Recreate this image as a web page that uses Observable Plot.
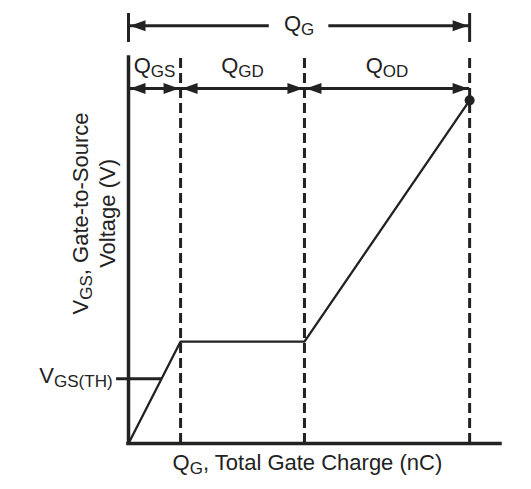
<!DOCTYPE html>
<html>
<head>
<meta charset="utf-8">
<script src="https://cdn.jsdelivr.net/npm/d3@7"></script>
<script src="https://cdn.jsdelivr.net/npm/@observablehq/plot@0.6"></script>
<style>
  html, body { margin: 0; padding: 0; background: #fff; }
</style>
</head>
<body>
<div id="chart"></div>
<script>
// ---- data ----
const charges = [0, 14, 47.3, 91.7];        // gate charge at phase boundaries
const voltages = [0, 2.64, 2.64, 8.89];     // gate-to-source voltage at those points
const vth = 1.68;                           // threshold voltage
const segmentLabels = ["Q_{GS}", "Q_{GD}", "Q_{OD}"];
const totalLabel = "Q_{G}";
const vthLabel = "V_{GS(TH)}";
const xLabel = "Q_{G}, Total Gate Charge (nC)";
const yLabel = "V_{GS}, Gate-to-Source\nVoltage (V)";

const xMax = 100, yMax = 10;
const qg = charges[charges.length - 1];
const vEnd = voltages[voltages.length - 1];
const ink = "#222";

const segments = segmentLabels.map((label, i) => ({label, x1: charges[i], x2: charges[i + 1], mid: (charges[i] + charges[i + 1]) / 2}));
const qgMid = qg / 2;

// annotation rows (in y units above the axis)
const rowY = 9.2, rowLabelY = 9.79;
const topY = 10.82, topLabelY = 10.88, topBar = [10.39, 11.14];
const gap = 8;

// filled arrowheads, tip at origin
const headR = {draw(c) { c.moveTo(-1.5, 0); c.lineTo(-17, -5.5); c.lineTo(-17, 5.5); c.closePath(); }};
const headL = {draw(c) { c.moveTo(1.5, 0); c.lineTo(17, -5.5); c.lineTo(17, 5.5); c.closePath(); }};

const FS = 22;

const chart = Plot.plot({
  width: 531,
  height: 489,
  marginLeft: 128,
  marginRight: 31,
  marginTop: 57,
  marginBottom: 46,
  style: {fontFamily: "'Liberation Sans', Arial, sans-serif", color: ink, background: "#fff"},
  x: {domain: [0, xMax], range: [128, 500], axis: null},
  y: {domain: [0, yMax], range: [443, 57], axis: null},
  marks: [
    // dashed phase boundaries
    Plot.ruleX(charges.slice(1), {y1: 0, y2: yMax, stroke: ink, strokeWidth: 3, strokeDasharray: "10,5"}),
    // axes
    Plot.ruleX([0], {y1: 0, y2: yMax, stroke: ink, strokeWidth: 3.5, strokeLinecap: "square"}),
    Plot.ruleY([0], {x1: 0, x2: xMax, stroke: ink, strokeWidth: 3.5, strokeLinecap: "square"}),
    // threshold tick
    Plot.ruleY([vth], {x1: -3.2, x2: vth / voltages[1] * charges[1], stroke: ink, strokeWidth: 3}),
    Plot.text([vthLabel], {x: -3.2, y: vth, dx: -4, dy: -3, textAnchor: "end", fontSize: FS, fill: ink}),
    // gate charge curve
    Plot.line(charges.map((c, i) => ({c, v: voltages[i]})), {x: "c", y: "v", stroke: ink, strokeWidth: 2.3}),
    Plot.dot([{c: qg, v: vEnd}], {x: "c", y: "v", r: 5, fill: ink, stroke: "none"}),
    // segment arrows
    Plot.ruleY(segments, {y: rowY, x1: "x1", x2: "x2", stroke: ink, strokeWidth: 3}),
    Plot.dot(segments, {x: "x2", y: rowY, symbol: headR, fill: ink, stroke: "none"}),
    Plot.dot(segments, {x: "x1", y: rowY, symbol: headL, fill: ink, stroke: "none"}),
    Plot.text(segments, {x: "mid", y: rowLabelY, text: "label", fontSize: FS, fill: ink}),
    // total charge arrow
    Plot.ruleX([0, qg], {y1: topBar[0], y2: topBar[1], stroke: ink, strokeWidth: 3}),
    Plot.ruleY([topY], {x1: 0, x2: qgMid - gap, stroke: ink, strokeWidth: 3}),
    Plot.ruleY([topY], {x1: qgMid + gap, x2: qg, stroke: ink, strokeWidth: 3}),
    Plot.dot([0], {x: d => d, y: topY, symbol: headL, fill: ink, stroke: "none"}),
    Plot.dot([qg], {x: d => d, y: topY, symbol: headR, fill: ink, stroke: "none"}),
    Plot.text([totalLabel], {x: qgMid, y: topLabelY, fontSize: FS, fill: ink}),
    // axis titles
    Plot.text([xLabel], {x: 48.1, frameAnchor: "bottom", dy: 26, fontSize: FS, fill: ink}),
    Plot.text([yLabel], {x: -9.5, y: 5.96, rotate: -90, lineHeight: 1.22, fontSize: FS, fill: ink})
  ]
});

// render "_{...}" as subscripts
function subscriptify(root) {
  const SUB = 17, SHIFT = 4;
  root.querySelectorAll("text, tspan").forEach(el => {
    if (el.children.length) return;
    const s = el.textContent;
    if (!s.includes("_{")) return;
    el.textContent = "";
    const parts = s.split(/_\{([^}]*)\}/);
    let shifted = false;
    parts.forEach((p, i) => {
      if (!p) return;
      const t = document.createElementNS("http://www.w3.org/2000/svg", "tspan");
      t.textContent = p;
      if (i % 2) {
        t.setAttribute("font-size", SUB);
        if (!shifted) { t.setAttribute("dy", SHIFT); shifted = true; }
      } else if (shifted) {
        t.setAttribute("dy", -SHIFT); shifted = false;
      }
      el.appendChild(t);
    });
  });
}
subscriptify(chart);
document.getElementById("chart").appendChild(chart);
</script>
</body>
</html>
